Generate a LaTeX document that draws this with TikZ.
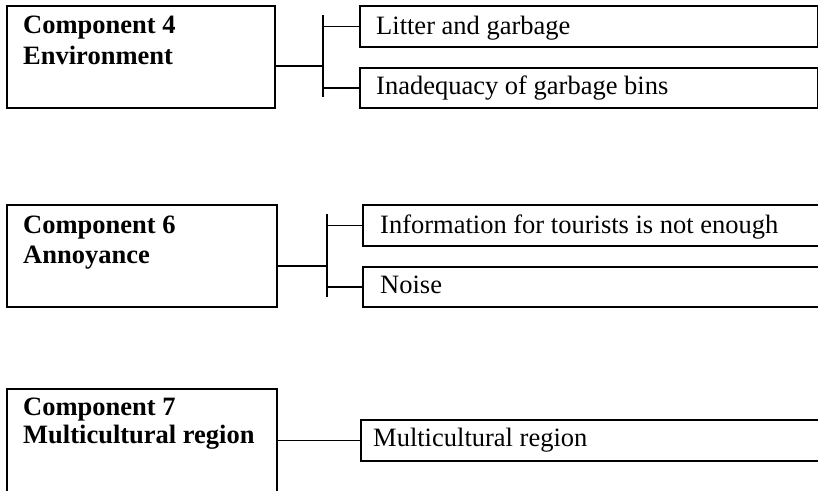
\documentclass[tikz,border=0pt]{standalone}
\usepackage{fontspec}
\setmainfont{Liberation Serif}
\begin{document}
\begin{tikzpicture}[x=1pt,y=-1pt,
  box/.style={draw,line width=1.5pt,inner sep=0pt,anchor=north west},
  conn/.style={line width=1.5pt},
  lbl/.style={anchor=base west,inner sep=0pt,font=\fontsize{26.5}{30}\selectfont},
  hd/.style={anchor=base west,inner sep=0pt,font=\fontsize{26.5}{30}\selectfont\bfseries}]
\useasboundingbox (0,0) rectangle (818,490);
\clip (0,0) rectangle (818,490);
% ---------- Component 4
\node[box,minimum width=268pt,minimum height=102pt] (c4) at (6,5) {};
\node[hd] (c4a) at (23,33) {Component 4};
\node[hd] (c4b) at (23,64) {Environment};
\node[box,minimum width=458pt,minimum height=41pt] (l1) at (359,5) {};
\node[lbl] (l1t) at (376,34) {Litter and garbage};
\node[box,minimum width=458pt,minimum height=40pt] (l2) at (359,67) {};
\node[lbl] (l2t) at (376,94) {Inadequacy of garbage bins};
\coordinate (j4) at (323,66);
\coordinate (t4) at (323,15);
\coordinate (b4) at (323,97);
\draw[conn] (j4 -| c4.east) -- (j4);
\draw[conn] (t4) -- (b4);
\draw[conn] (j4 |- l1.west) -- (l1.west);
\draw[conn] (j4 |- l2.west) -- (l2.west);
% ---------- Component 6
\node[box,minimum width=270pt,minimum height=102pt] (c6) at (6,204) {};
\node[hd] (c6a) at (23,233) {Component 6};
\node[hd] (c6b) at (23,263) {Annoyance};
\node[box,minimum width=480pt,minimum height=41pt] (a1) at (362,204) {};
\node[lbl] (a1t) at (380,233) {Information for tourists is not enough};
\node[box,minimum width=480pt,minimum height=40pt] (a2) at (362,266) {};
\node[lbl] (a2t) at (380,293) {Noise};
\coordinate (j6) at (327,266);
\coordinate (t6) at (327,214);
\coordinate (b6) at (327,297);
\draw[conn] (j6 -| c6.east) -- (j6);
\draw[conn] (t6) -- (b6);
\draw[conn] (j6 |- a1.west) -- (a1.west);
\draw[conn] (j6 |- a2.west) -- (a2.west);
% ---------- Component 7
\node[box,minimum width=270pt,minimum height=130pt] (c7) at (6,388) {};
\node[hd] (c7a) at (23,415) {Component 7};
\node[hd] (c7b) at (23,443) {Multicultural region};
\node[box,minimum width=480pt,minimum height=41pt] (m1) at (360,419) {};
\node[lbl] (m1t) at (373,446) {Multicultural region};
\draw[conn] (m1.west -| c7.east) -- (m1.west);
\end{tikzpicture}
\end{document}
